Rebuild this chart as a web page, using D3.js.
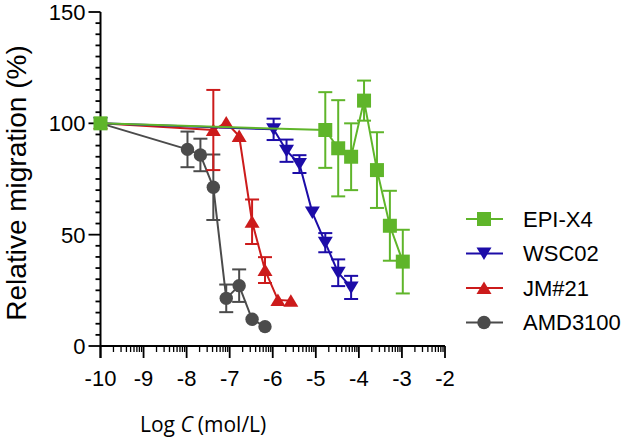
<!DOCTYPE html>
<html>
<head>
<meta charset="utf-8">
<script src="https://cdn.jsdelivr.net/npm/d3@7"></script>
<style>
  body { margin: 0; background: #fff; }
  svg { display: block; }
</style>
</head>
<body>
<div id="chart"></div>
<script>
// data (log concentration, mean %, error)
const seriesNames = ["EPI-X4", "WSC02", "JM#21", "AMD3100"];

const epiLogC = [-10, -4.78, -4.48, -4.18, -3.88, -3.58, -3.28, -2.98];
const epiMean = [100, 97, 88.8, 85, 110.2, 79, 54, 37.9];
const epiErr  = [0, 17, 21.6, 15, 9, 17, 15.7, 14.3];

const wscLogC = [-10, -5.98, -5.68, -5.38, -5.08, -4.78, -4.48, -4.18];
const wscMean = [100, 97.3, 87.7, 81.7, 59.9, 46.4, 32.9, 26.3];
const wscErr  = [0, 4.8, 5, 4, 0, 4.3, 6, 5.2];

const jmLogC = [-10, -7.38, -7.08, -6.78, -6.48, -6.18, -5.88, -5.58];
const jmMean = [100, 97, 100.4, 94.3, 55.8, 34.1, 20.7, 20.3];
const jmErr  = [0, 18, 0, 0, 10, 5.8, 0, 0];

const amdLogC = [-10, -7.98, -7.68, -7.38, -7.08, -6.78, -6.48, -6.18];
const amdMean = [100, 88.3, 85.8, 71.3, 21.4, 27.1, 12, 8.7];
const amdErr  = [0, 8, 7.3, 14.7, 6.2, 7.3, 0, 0];

const xTicks = [-10, -9, -8, -7, -6, -5, -4, -3, -2];
const yTicks = [0, 50, 100, 150];

var width = 633, height = 439;

var svg = d3.select("#chart")
    .append("svg")
    .attr("width", width)
    .attr("height", height);

var x = d3.scaleLinear().domain([-10, -2]).range([100.5, 445]);
var y = d3.scaleLinear().domain([0, 150]).range([346, 12]);

const makeSeries = (name, xs, ms, es, color, shape) => ({
    name: name, color: color, shape: shape,
    points: xs.map((v, i) => ({x: v, y: ms[i], e: es[i]}))
});

// drawn back to front, green ends on top
var series = [
    makeSeries("AMD3100", amdLogC, amdMean, amdErr, "#4b4b4b", "circle"),
    makeSeries("JM#21", jmLogC, jmMean, jmErr, "#cc1b1b", "up"),
    makeSeries("WSC02", wscLogC, wscMean, wscErr, "#1c0ca8", "down"),
    makeSeries("EPI-X4", epiLogC, epiMean, epiErr, "#5fb52a", "square")
];

// marker paths, centred on their bounding box
const markerPath = (shape) => {
    if (shape == "square") return "M-7,-7H7V7H-7Z";
    if (shape == "up") return "M0,-6.5L7.5,6L-7.5,6Z";
    if (shape == "down") return "M0,6.5L7.5,-6L-7.5,-6Z";
    return d3.symbol().type(d3.symbolCircle).size(Math.PI * 6.7 * 6.7)();
};

// y axis
var yAxis = svg.append("g").attr("transform", "translate(100.5,0)");
yAxis.append("line")
    .attr("y1", y(150)).attr("y2", y(0) + 12)
    .attr("stroke", "#000").attr("stroke-width", 2);
d3.range(0, 151, 5).forEach((v) => {
    var major = v % 50 == 0;
    yAxis.append("line")
        .attr("x1", major ? -12 : -5).attr("x2", 0)
        .attr("y1", y(v)).attr("y2", y(v))
        .attr("stroke", "#000").attr("stroke-width", 1.8);
});
yAxis.selectAll("text.ytick")
    .data(yTicks)
    .enter()
    .append("text")
    .attr("class", "ytick")
    .attr("x", -15)
    .attr("y", (d) => y(d))
    .attr("dy", "0.36em")
    .attr("text-anchor", "end")
    .style("font-family", "Liberation Sans, Arial, sans-serif")
    .style("font-size", "22px")
    .text((d) => d);

// x axis with log minor ticks
var xAxis = svg.append("g").attr("transform", "translate(0,346)");
xAxis.append("line")
    .attr("x1", x(-10)).attr("x2", x(-2))
    .attr("stroke", "#000").attr("stroke-width", 2);
xTicks.forEach((t) => {
    xAxis.append("line")
        .attr("x1", x(t)).attr("x2", x(t))
        .attr("y1", 0).attr("y2", 12)
        .attr("stroke", "#000").attr("stroke-width", 1.8);
    if (t < -2) {
        for (let k = 2; k < 10; k++) {
            var xv = t + Math.log10(k);
            xAxis.append("line")
                .attr("x1", x(xv)).attr("x2", x(xv))
                .attr("y1", 0).attr("y2", 6)
                .attr("stroke", "#000").attr("stroke-width", 1.3);
        }
    }
});
xAxis.selectAll("text.xtick")
    .data(xTicks)
    .enter()
    .append("text")
    .attr("class", "xtick")
    .attr("x", (d) => x(d))
    .attr("y", 40)
    .attr("text-anchor", "middle")
    .style("font-family", "Liberation Sans, Arial, sans-serif")
    .style("font-size", "22px")
    .text((d) => d);

// axis titles
svg.append("text")
    .attr("transform", "translate(26,183) rotate(-90)")
    .attr("text-anchor", "middle")
    .style("font-family", "Liberation Sans, Arial, sans-serif")
    .style("font-size", "28px")
    .text("Relative migration (%)");

var xTitle = svg.append("text")
    .attr("x", 140)
    .attr("y", 432)
    .style("font-family", "Open Sans, sans-serif")
    .style("font-size", "21px");
xTitle.append("tspan").text("Log ");
xTitle.append("tspan").style("font-style", "italic").text("C");
xTitle.append("tspan").attr("dx", 5).text("(mol/L)");

// series
var line = d3.line().x((d) => x(d.x)).y((d) => y(d.y));

series.forEach((s) => {
    var g = svg.append("g");
    g.append("path")
        .datum(s.points)
        .attr("d", line)
        .attr("fill", "none")
        .attr("stroke", s.color)
        .attr("stroke-width", 2);

    var bars = s.points.filter((d) => d.e > 0);
    g.selectAll("line.eb")
        .data(bars)
        .enter()
        .append("line")
        .attr("x1", (d) => x(d.x)).attr("x2", (d) => x(d.x))
        .attr("y1", (d) => y(d.y - d.e)).attr("y2", (d) => y(d.y + d.e))
        .attr("stroke", s.color).attr("stroke-width", 2);
    [1, -1].forEach((sign) => {
        g.selectAll("line.cap" + sign)
            .data(bars)
            .enter()
            .append("line")
            .attr("x1", (d) => x(d.x) - 7).attr("x2", (d) => x(d.x) + 7)
            .attr("y1", (d) => y(d.y + sign * d.e)).attr("y2", (d) => y(d.y + sign * d.e))
            .attr("stroke", s.color).attr("stroke-width", 2);
    });

    g.selectAll("path.mk")
        .data(s.points)
        .enter()
        .append("path")
        .attr("d", markerPath(s.shape))
        .attr("transform", (d) => "translate(" + x(d.x) + "," + y(d.y) + ")")
        .attr("fill", s.color);
});

// legend
var legendOrder = seriesNames.map((n) => series.find((s) => s.name == n));
var legend = svg.selectAll("g.legend")
    .data(legendOrder)
    .enter()
    .append("g")
    .attr("class", "legend")
    .attr("transform", (d, i) => "translate(484," + (219 + i * 34.5) + ")");
legend.append("line")
    .attr("x1", -18).attr("x2", 19)
    .attr("stroke", (d) => d.color).attr("stroke-width", 2);
legend.append("path")
    .attr("d", (d) => markerPath(d.shape))
    .attr("fill", (d) => d.color);
legend.append("text")
    .attr("x", 39)
    .attr("dy", "0.36em")
    .style("font-family", "Liberation Sans, Arial, sans-serif")
    .style("font-size", "22px")
    .text((d) => d.name);
</script>
</body>
</html>
